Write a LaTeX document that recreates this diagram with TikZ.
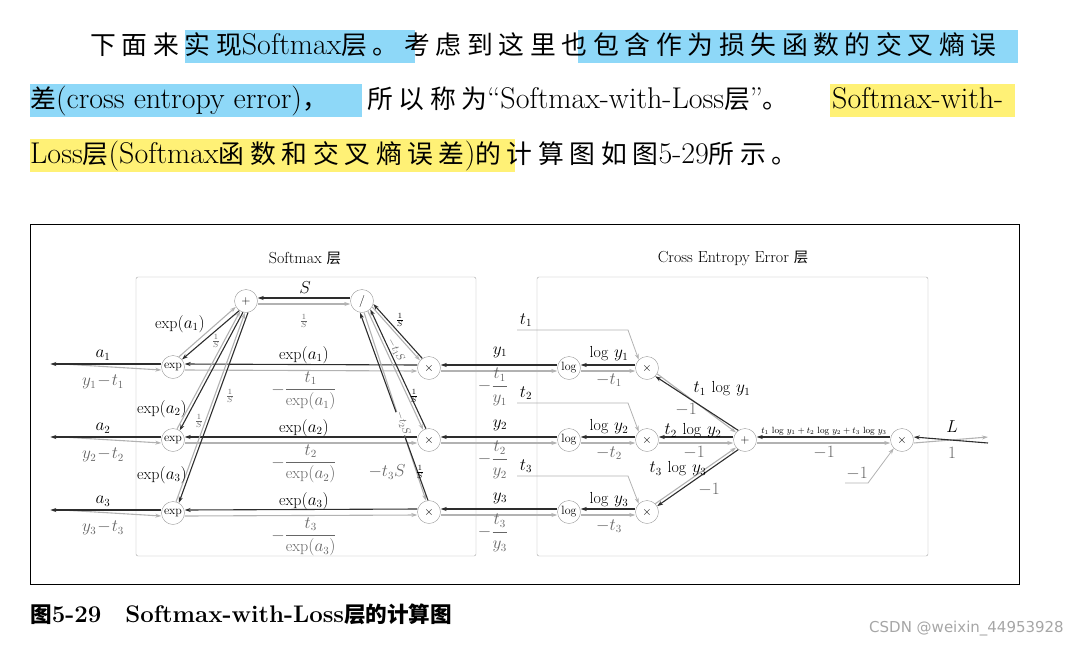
\documentclass[tikz,border=0pt]{standalone}
\usepackage{fontspec}
\usepackage{amsmath}
\newfontfamily\cjk[LetterSpace=22, Scale=0.86]{Noto Sans CJK SC}
\newfontfamily\cjkb[Scale=0.9]{Noto Sans CJK SC}
\newcommand\zh[1]{{\cjk #1}}
\usetikzlibrary{arrows.meta}
\definecolor{hlblue}{HTML}{8ED8F8}
\definecolor{hlyel}{HTML}{FFF176}
\tikzset{
  op/.style = {circle, draw=gray!80, fill=white, minimum size=23pt, inner sep=0pt, font=\fontsize{12}{13}\selectfont},
  fwd/.style = {draw=gray!60, line width=1.1pt, -{Stealth[length=6pt,width=4pt]}},
  bwd/.style = {draw=gray!35!black, line width=1.1pt, -{Stealth[length=6pt,width=4pt]}},
  lab/.style = {font=\fontsize{16}{17}\selectfont},
  blab/.style = {font=\fontsize{16}{17}\selectfont, text=gray!80!black},
  slab/.style = {font=\fontsize{11}{12}\selectfont, text=gray!80!black, inner sep=1pt},
  para/.style = {anchor=base west, inner sep=0pt, font=\fontsize{30}{34}\selectfont},
}
\begin{document}
\begin{tikzpicture}[x=1pt, y=-1pt]
\useasboundingbox (0,0) rectangle (1079,646);
% highlights
\fill[hlblue] (185,30) rectangle (415,63);
\fill[hlblue] (578,30) rectangle (1018,63);
\fill[hlblue] (30,84) rectangle (362,117);
\fill[hlyel] (830,84) rectangle (1015,117);
\fill[hlyel] (30,139) rectangle (515,172);
% paragraph
\node[para] (l1) at (90,54) {\zh{下面来实现}Softmax\zh{层。考虑到这里也包含作为损失函数的交叉熵误}};
\node[para] (l2) at (30,108) {\zh{差}(cross entropy error)\zh{，}};
\node[para] (l2a) at (367,108) {\zh{所以称为}“Softmax-with-Loss\zh{层}”\zh{。}};
\node[para] (l2b) at (832,108) {Softmax-with-};
\node[para] (l3) at (30,163) {Loss\zh{层}(Softmax\zh{函数和交叉熵误差}){\cjk 的计算图如图}5-29\zh{所示。}};

% frames
\draw[line width=0.8pt] (30,224) rectangle (1019,584);
\draw[gray!70, rounded corners=2pt] (136,277) rectangle (476,556);
\draw[gray!70, rounded corners=2pt] (537,277) rectangle (928,556);
\node[lab] (tsm) at (305,258) {Softmax {\cjkb 层}};
\node[lab] (tce) at (733,258) {Cross Entropy Error {\cjkb 层}};

% nodes
\node[op] (exp1) at (173,367) {exp};
\node[op] (exp2) at (173,440) {exp};
\node[op] (exp3) at (173,513) {exp};
\node[op] (plus) at (246,301) {$+$};
\node[op] (div) at (362,301) {/};
\node[op] (mul1) at (429,368) {$\times$};
\node[op] (mul2) at (429,440) {$\times$};
\node[op] (mul3) at (429,512) {$\times$};
\node[op] (log1) at (569,368) {log};
\node[op] (log2) at (569,440) {log};
\node[op] (log3) at (569,512) {log};
\node[op] (m1) at (647,368) {$\times$};
\node[op] (m2) at (647,440) {$\times$};
\node[op] (m3) at (647,512) {$\times$};
\node[op] (sum) at (745,440) {$+$};
\node[op] (mulL) at (902,440) {$\times$};

\coordinate (in1) at (62,364);
\coordinate (in2) at (62,437);
\coordinate (in3) at (62,510);
\coordinate (out) at (988,437);

% inputs
\foreach \i/\y in {1/367,2/440,3/513}{
  \draw[fwd] (in\i) -- ([yshift=-3]exp\i.west);
  \draw[bwd] ([yshift=3]exp\i.west) -- ++(-111,0);
  \node[lab] at (103,\y-12) {$a_\i$};
  \node[blab] at (103,\y+15) {$y_\i\!-\!t_\i$};
  \draw[fwd] ([yshift=-3]exp\i.east) -- ([yshift=-3]mul\i.west);
  \draw[bwd] ([yshift=3]mul\i.west) -- ([yshift=3]exp\i.east);
  \node[lab] at (304,\y-12) {$\exp(a_\i)$};
  \node[blab] at (304,\y+24) {$-\dfrac{t_\i}{\exp(a_\i)}$};
  \draw[fwd] ([yshift=-3]mul\i.east) -- ([yshift=-3]log\i.west);
  \draw[bwd] ([yshift=3]log\i.west) -- ([yshift=3]mul\i.east);
  \node[lab] at (500,\y-15) {$y_\i$};
  \node[blab] at (493,\y+20) {$-\dfrac{t_\i}{y_\i}$};
  \draw[fwd] ([yshift=-3]log\i.east) -- ([yshift=-3]m\i.west);
  \draw[bwd] ([yshift=3]m\i.west) -- ([yshift=3]log\i.east);
  \node[lab] at (609,\y-13) {$\log\,y_\i$};
  \node[blab] at (609,\y+13) {$-t_\i$};
  \draw[fwd, draw=gray!60, line width=0.8pt] (517,\y-37) -- (628,\y-37) -- (m\i.north west);
  \node[lab] at (526,\y-47) {$t_\i$};
}

% exp -> plus
\draw[fwd] (exp1.60) -- (plus.210);
\draw[bwd] (plus.235) -- (exp1.40);
\draw[fwd] (exp2.70) -- (plus.240);
\draw[bwd] (plus.255) -- (exp2.55);
\draw[fwd] (exp3.75) -- (plus.265);
\draw[bwd] (plus.280) -- (exp3.60);
\node[lab] at (180,324) {$\exp(a_1)$};
\node[lab] at (162,409) {$\exp(a_2)$};
\node[lab] at (162,475) {$\exp(a_3)$};
\node[slab] at (216,341) {$\frac{1}{S}$};
\node[slab] at (199,421) {$\frac{1}{S}$};
\node[slab] at (230,396) {$\frac{1}{S}$};

% plus <-> div
\draw[fwd] ([yshift=-3]plus.east) -- ([yshift=-3]div.west);
\draw[bwd] ([yshift=3]div.west) -- ([yshift=3]plus.east);
\node[lab] at (305,288) {$S$};
\node[slab] at (304,321) {$\frac{1}{S}$};

% div -> mul
\draw[fwd] (div.-30) -- (mul1.140);
\draw[bwd] (mul1.125) -- (div.-15);
\draw[fwd] (div.-60) -- (mul2.120);
\draw[bwd] (mul2.105) -- (div.-45);
\draw[fwd] (div.-80) -- (mul3.105);
\draw[bwd] (mul3.95) -- (div.-100);
\node[slab, text=black] at (400,320) {$\frac{1}{S}$};
\node[slab, rotate=-62, fill=white, inner sep=0pt] at (396,350) {$-t_1S$};
\node[slab, text=black] at (414,396) {$\frac{1}{S}$};
\node[slab, rotate=-72, fill=white, inner sep=0pt] at (403,423) {$-t_2S$};
\node[blab] at (387,472) {$-t_3S$};
\node[slab, text=black] at (420,472) {$\frac{1}{S}$};

% m -> sum
\draw[fwd] (m1.-30) -- (sum.140);
\draw[bwd] (sum.125) -- (m1.-45);
\draw[fwd] ([yshift=-3]m2.east) -- ([yshift=-3]sum.west);
\draw[bwd] ([yshift=3]sum.west) -- ([yshift=3]m2.east);
\draw[fwd] (m3.45) -- (sum.-140);
\draw[bwd] (sum.-125) -- (m3.30);
\node[lab] at (722,389) {$t_1\,\log\,y_1$};
\node[blab] at (686,410) {$-1$};
\node[lab] at (693,431) {$t_2\,\log\,y_2$};
\node[blab] at (694,453) {$-1$};
\node[lab] at (678,469) {$t_3\,\log\,y_3$};
\node[blab] at (709,490) {$-1$};

% sum -> mulL -> out
\draw[fwd] ([yshift=-3]sum.east) -- ([yshift=-3]mulL.west);
\draw[bwd] ([yshift=3]mulL.west) -- ([yshift=3]sum.east);
\node[slab, text=black, font=\fontsize{9}{10}\selectfont] at (824,431) {$t_1\,\log\,y_1+t_2\,\log\,y_2+t_3\,\log\,y_3$};
\node[blab] at (824,453) {$-1$};
\draw[fwd, draw=gray!60, line width=0.8pt] (845,483) -- (868,483) -- (mulL.south west);
\node[blab] at (857,474) {$-1$};
\draw[fwd] ([yshift=-3]mulL.east) -- (out);
\draw[bwd] (988,443) -- ([yshift=3]mulL.east);
\node[lab] at (952,427) {$L$};
\node[blab] at (952,453) {$1$};

% caption
\node[anchor=base west, inner sep=0pt, font=\fontsize{24}{26}\selectfont\bfseries] (cap) at (30,622) {{\cjkb\bfseries 图}5-29\quad Softmax-with-Loss{\cjkb\bfseries 层的计算图}};
\node[anchor=base east, inner sep=0pt, font=\fontsize{15}{17}\selectfont, text=gray!70] (wm) at (1064,632) {\fontspec{DejaVu Sans}CSDN @weixin\_44953928};
\end{tikzpicture}
\end{document}
